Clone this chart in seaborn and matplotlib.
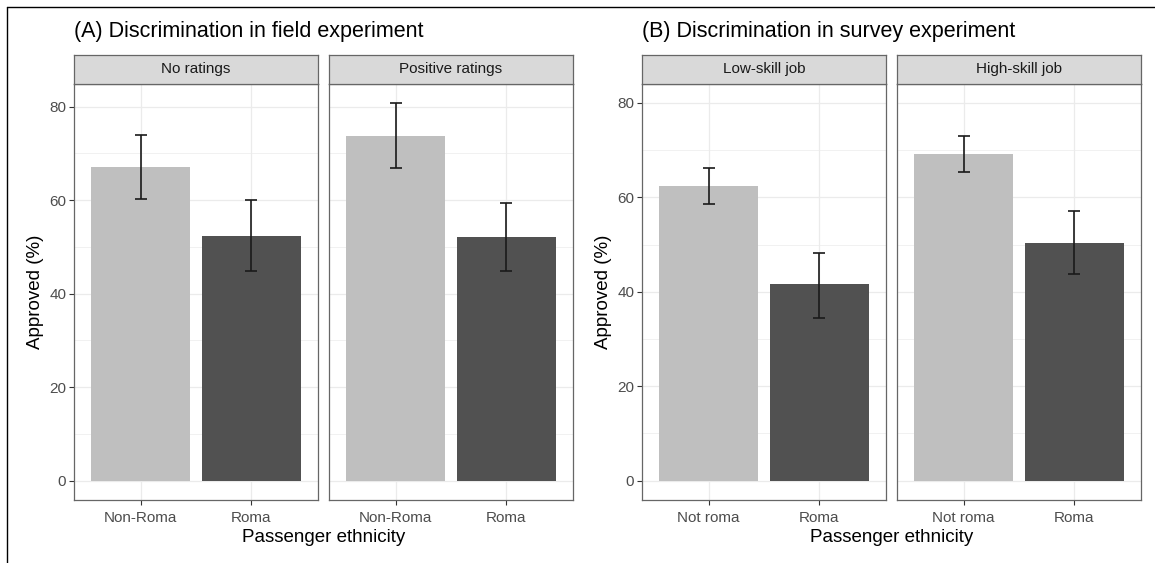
import numpy as np
import pandas as pd
import seaborn as sns
import matplotlib.pyplot as plt
from matplotlib.lines import Line2D
from matplotlib.ticker import MultipleLocator

# данные
field_conditions = ["No ratings", "Positive ratings"]
field_groups = ["Non-Roma", "Roma"]
field_mean = [[67.0, 52.3], [73.8, 52.1]]
field_lo = [[60.2, 44.8], [66.9, 44.9]]
field_hi = [[73.9, 60.0], [80.8, 59.4]]

survey_conditions = ["Low-skill job", "High-skill job"]
survey_groups = ["Not roma", "Roma"]
survey_mean = [[62.4, 41.6], [69.1, 50.4]]
survey_lo = [[58.6, 34.5], [65.4, 43.8]]
survey_hi = [[66.3, 48.3], [72.9, 57.2]]

panel_titles = ["(A) Discrimination in field experiment", "(B) Discrimination in survey experiment"]
x_title = "Passenger ethnicity"
y_title = "Approved (%)"

bar_colors = ["#BFBFBF", "#515151"]

sns.set_theme(style="white")
plt.rcParams["font.family"] = ["Liberation Sans", "DejaVu Sans"]

W, H = 1155, 563
fig = plt.figure(figsize=(W / 100, H / 100), dpi=100)


def box(x0, x1, y0, y1):
    return [x0 / W, 1 - y1 / H, (x1 - x0) / W, (y1 - y0) / H]


def draw_facet(ax, groups, mean, lo, hi, ylim, left):
    d = pd.DataFrame({"ethnicity": groups, "approved": mean})
    sns.barplot(data=d, x="ethnicity", y="approved", hue="ethnicity",
                palette=bar_colors, width=0.9, saturation=1, legend=False,
                errorbar=None, linewidth=0, ax=ax, zorder=2)
    mean = np.array(mean)
    ax.errorbar(x=np.arange(len(groups)), y=mean,
                yerr=[mean - np.array(lo), np.array(hi) - mean],
                fmt="none", ecolor="#1a1a1a", elinewidth=1.2, capsize=4,
                capthick=1.2, zorder=3)
    ax.set_xlim(-0.6, 1.6)
    ax.set_ylim(*ylim)
    ax.yaxis.set_major_locator(MultipleLocator(20))
    ax.yaxis.set_minor_locator(MultipleLocator(10))
    ax.set_facecolor("white")
    ax.grid(True, which="major", color="#EBEBEB", lw=0.9, zorder=0)
    ax.grid(True, which="minor", axis="y", color="#EBEBEB", lw=0.5, zorder=0)
    ax.set_axisbelow(True)
    for s in ax.spines.values():
        s.set_color("#666666")
        s.set_linewidth(0.9)
    ax.set_xlabel("")
    ax.tick_params(axis="x", length=3.6, width=0.8, color="#333333", pad=4.5,
                   labelsize=11, labelcolor="#4D4D4D", bottom=True)
    if left:
        ax.set_ylabel(y_title, fontsize=13.5, color="black", labelpad=4)
        ax.tick_params(axis="y", length=3.6, width=0.8, color="#333333", pad=2,
                       labelsize=11, labelcolor="#4D4D4D", left=True)
        ax.tick_params(axis="y", which="minor", length=0)
    else:
        ax.set_ylabel("")
        ax.tick_params(axis="y", which="both", left=False, labelleft=False)


def draw_strip(pos, label):
    sax = fig.add_axes(pos)
    sax.set_facecolor("#D9D9D9")
    sax.set_xticks([])
    sax.set_yticks([])
    for s in sax.spines.values():
        s.set_color("#666666")
        s.set_linewidth(0.9)
    sax.text(0.5, 0.5, label, ha="center", va="center", fontsize=11, color="#1A1A1A")


panels = [
    (field_conditions, field_groups, field_mean, field_lo, field_hi, (-4.04, 84.85), [(74, 318), (329, 573)]),
    (survey_conditions, survey_groups, survey_mean, survey_lo, survey_hi, (-4.0, 84.0), [(642, 886), (897, 1141)]),
]

for p, (conds, groups, mean, lo, hi, ylim, xs) in enumerate(panels):
    for i, cond in enumerate(conds):
        x0, x1 = xs[i]
        ax = fig.add_axes(box(x0, x1, 84, 499.5))
        draw_facet(ax, groups, mean[i], lo[i], hi[i], ylim, left=(i == 0))
        draw_strip(box(x0, x1, 55, 84), cond)
    fig.text(xs[0][0] / W, 1 - 32 / H, panel_titles[p], ha="left", va="center",
             fontsize=15.5, color="black")
    fig.text((xs[0][0] + xs[1][1]) / 2 / W, 1 - 537 / H, x_title, ha="center",
             va="center", fontsize=13.5, color="black")

# рамка скриншота сверху и слева
fig.add_artist(Line2D([7 / W, 1], [1 - 6.5 / H, 1 - 6.5 / H], color="black", lw=1))
fig.add_artist(Line2D([7 / W, 7 / W], [0, 1 - 6.5 / H], color="black", lw=1))

fig.savefig("out.png", dpi=100)
